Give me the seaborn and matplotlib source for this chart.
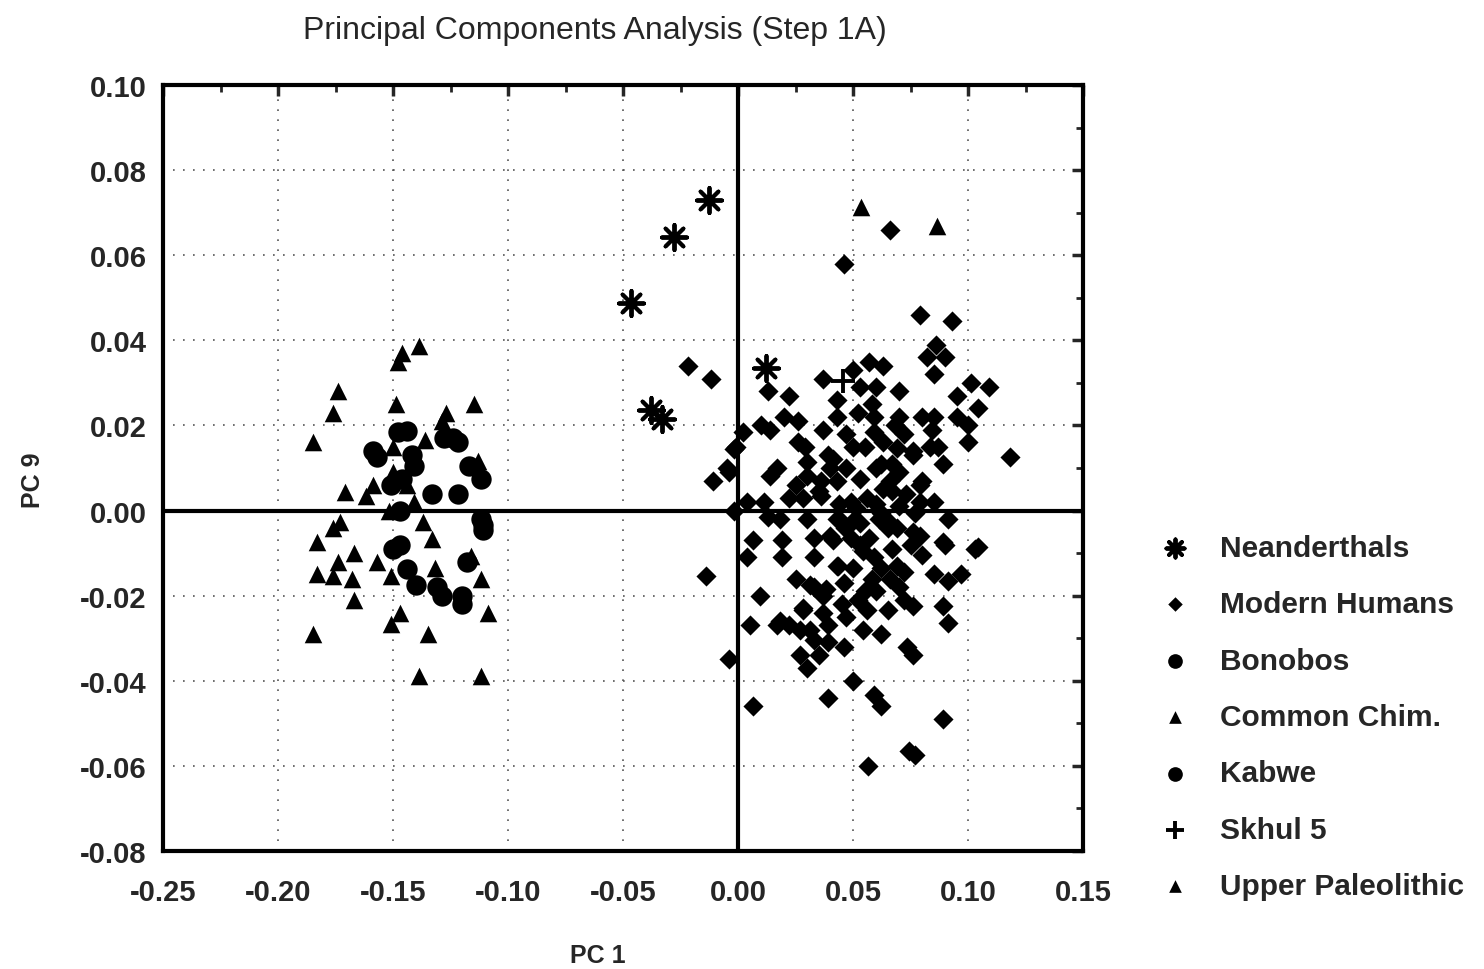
import numpy as np
import pandas as pd
import seaborn as sns
import matplotlib.pyplot as plt
from matplotlib.ticker import MultipleLocator, FormatStrFormatter

# --------------------------- DATA ---------------------------
neand_pc1 = [-0.0126, -0.0278, -0.0465, -0.0378, -0.0330, 0.0122]
neand_pc9 = [0.0730, 0.0644, 0.0488, 0.0236, 0.0215, 0.0335]

modern_pc1 = [
    0.066, 0.046, 0.079, 0.093, -0.012, -0.022, 0.086, 0.082, 0.090, 0.085,
    0.101, 0.109, 0.057, 0.063, 0.037, 0.050, 0.053, 0.060, 0.070, 0.013,
    0.022, 0.043, 0.095, 0.104, 0.010, 0.014, 0.020, 0.026, 0.037, 0.043,
    0.052, 0.059, 0.070, 0.080, 0.085, 0.095, 0.100, 0.002, -0.001, 0.026,
    0.029, 0.030, 0.039, 0.041, 0.050, -0.005, 0.017, 0.084, 0.100, 0.0835,
    0.087, 0.069, 0.059, 0.055, 0.076, 0.089, 0.118, 0.062, 0.067, -0.011,
    -0.004, 0.014, 0.004, 0.011, 0.025, 0.022, 0.028, 0.036, 0.036, 0.043,
    0.013, 0.018, 0.030, 0.033, 0.040, 0.043, 0.0065, 0.019, 0.004, 0.019,
    -0.014, 0.0095, 0.033, 0.037, 0.043, 0.046, 0.028, 0.037, 0.047, 0.005,
    0.018, 0.079, 0.060, 0.066, 0.053, 0.035, 0.049, 0.063, 0.070, 0.079,
    0.085, 0.091, 0.044, 0.050, 0.065, 0.069, 0.041, 0.049, 0.053, 0.076,
    0.079, 0.075, 0.089, 0.104, 0.0435, 0.050, 0.059, 0.062, 0.069, 0.072,
    0.080, 0.085, 0.091, 0.097, 0.031, 0.038, 0.055, 0.060, 0.070, 0.076,
    0.072, 0.065, 0.056, 0.089, 0.091, 0.028, 0.039, 0.027, 0.017, 0.022,
    0.031, 0.033, 0.039, 0.054, 0.062, 0.046, 0.027, 0.030, 0.035, 0.0735,
    0.076, -0.004, 0.050, 0.039, 0.059, 0.062, 0.0065, 0.089, 0.074, 0.077,
    0.0565, 0.051, 0.053, 0.0465, 0.057, 0.062, 0.060, 0.044, 0.073, 0.077,
    0.090, 0.103, 0.054, 0.067, 0.061, 0.065, -0.002, -0.002, 0.076, 0.080,
    0.070, 0.058, 0.066, 0.045, 0.052, 0.040, 0.047, 0.056, 0.067, 0.063,
    0.072, 0.047, 0.030, 0.033, 0.025, 0.058, 0.068,
]
modern_pc9 = [
    0.066, 0.058, 0.046, 0.0445, 0.031, 0.034, 0.039, 0.036, 0.036, 0.032,
    0.030, 0.029, 0.035, 0.034, 0.031, 0.033, 0.029, 0.029, 0.028, 0.028,
    0.027, 0.026, 0.027, 0.024, 0.020, 0.019, 0.022, 0.021, 0.019, 0.022,
    0.023, 0.022, 0.022, 0.022, 0.022, 0.022, 0.020, 0.0185, 0.015, 0.016,
    0.015, 0.0115, 0.013, 0.012, 0.015, 0.010, 0.010, 0.019, 0.016, 0.015,
    0.015, 0.0146, 0.0185, 0.015, 0.014, 0.011, 0.0125, 0.011, 0.011, 0.007,
    0.009, 0.008, 0.002, 0.002, 0.006, 0.003, 0.003, 0.007, 0.0035, 0.007,
    -0.0015, -0.002, -0.002, -0.0065, -0.006, -0.002, -0.007, -0.007, -0.011, -0.011,
    -0.0155, -0.020, -0.018, -0.020, -0.013, -0.017, -0.023, -0.024, -0.025, -0.027,
    -0.026, 0.006, 0.010, 0.007, 0.0075, 0.0045, 0.002, 0.005, 0.001, 0.002,
    0.002, -0.002, -0.002, -0.0025, -0.0025, -0.004, -0.007, -0.0065, -0.008, -0.005,
    -0.006, -0.008, -0.0075, -0.0085, -0.013, -0.0135, -0.011, -0.0135, -0.013, -0.0145,
    -0.0105, -0.015, -0.0165, -0.015, -0.0175, -0.0185, -0.019, -0.019, -0.018, -0.0225,
    -0.021, -0.0235, -0.0235, -0.0225, -0.0265, -0.0235, -0.027, -0.028, -0.027, -0.027,
    -0.028, -0.0305, -0.031, -0.028, -0.029, -0.032, -0.034, -0.037, -0.034, -0.032,
    -0.034, -0.035, -0.040, -0.044, -0.0435, -0.046, -0.046, -0.049, -0.0565, -0.0575,
    -0.060, 0.0005, -0.003, -0.004, -0.0065, -0.0007, 0.0016, 0.0016, 0.004, -0.0007,
    -0.008, -0.009, -0.0095, 0.0045, -0.002, -0.0042, 0.0, 0.0145, 0.013, 0.007,
    0.009, -0.016, -0.016, -0.022, -0.021, 0.010, 0.010, 0.003, -0.009, 0.016,
    0.018, 0.018, 0.008, -0.011, -0.016, 0.025, 0.020,
]

bonobo_pc1 = [
    -0.157, -0.148, -0.144, -0.159, -0.142, -0.128, -0.122, -0.124, -0.141, -0.117,
    -0.112, -0.133, -0.122, -0.146, -0.151, -0.111, -0.112, -0.150, -0.147, -0.144,
    -0.140, -0.131, -0.129, -0.120, -0.120, -0.118, -0.147,
]
bonobo_pc9 = [
    0.0125, 0.0185, 0.0187, 0.014, 0.013, 0.017, 0.016, 0.017, 0.0105, 0.0105,
    0.0075, 0.004, 0.004, 0.0075, 0.006, -0.0035, -0.002, -0.009, -0.008, -0.0137,
    -0.0176, -0.018, -0.020, -0.020, -0.022, -0.012, 0.0,
]

chimp_pc1 = [
    -0.139, -0.148, -0.146, -0.174, -0.176, -0.149, -0.185, -0.127, -0.129, -0.115,
    -0.136, -0.150, -0.113, -0.171, -0.159, -0.162, -0.150, -0.144, -0.141, -0.173,
    -0.176, -0.183, -0.167, -0.174, -0.183, -0.176, -0.168, -0.167, -0.157, -0.151,
    -0.152, -0.137, -0.133, -0.132, -0.116, -0.112, -0.109, -0.185, -0.147, -0.151,
    -0.135, -0.139, -0.112,
]
chimp_pc9 = [
    0.0386, 0.035, 0.037, 0.028, 0.023, 0.025, 0.016, 0.023, 0.021, 0.025,
    0.0165, 0.015, 0.0117, 0.0044, 0.006, 0.0035, 0.009, 0.006, 0.002, -0.0026,
    -0.004, -0.0073, -0.010, -0.012, -0.015, -0.0155, -0.016, -0.021, -0.012, -0.0155,
    0.0, -0.0026, -0.0066, -0.0136, -0.0107, -0.016, -0.024, -0.029, -0.024, -0.0266,
    -0.029, -0.039, -0.039,
]

kabwe_pc1 = [-0.111]
kabwe_pc9 = [-0.0045]

skhul_pc1 = [0.0457]
skhul_pc9 = [0.0304]

upper_pc1 = [0.0535, 0.0865]
upper_pc9 = [0.0715, 0.0668]

group_order = ['Neanderthals', 'Modern Humans', 'Bonobos', 'Common Chim.',
               'Kabwe', 'Skhul 5', 'Upper Paleolithic']

# --------------------------- LONG TABLE ---------------------------
parts = [
    (neand_pc1, neand_pc9, 'Neanderthals'),
    (modern_pc1, modern_pc9, 'Modern Humans'),
    (bonobo_pc1, bonobo_pc9, 'Bonobos'),
    (chimp_pc1, chimp_pc9, 'Common Chim.'),
    (kabwe_pc1, kabwe_pc9, 'Kabwe'),
    (skhul_pc1, skhul_pc9, 'Skhul 5'),
    (upper_pc1, upper_pc9, 'Upper Paleolithic'),
]
df = pd.concat(
    [pd.DataFrame({'PC1': x, 'PC9': y, 'group': g}) for x, y, g in parts],
    ignore_index=True,
)

# marker look per group
group_style = {
    'Neanderthals': dict(marker=(8, 2, 0), s=330, linewidth=2.8),
    'Modern Humans': dict(marker='D', s=105, linewidth=0),
    'Bonobos': dict(marker='o', s=215, linewidth=0),
    'Common Chim.': dict(marker='^', s=160, linewidth=0),
    'Kabwe': dict(marker='o', s=215, linewidth=0),
    'Skhul 5': dict(marker='+', s=320, linewidth=2.8),
    'Upper Paleolithic': dict(marker='^', s=160, linewidth=0),
}

# --------------------------- STYLE ---------------------------
sns.set_style('white')
plt.rcParams['font.family'] = ['Liberation Sans', 'DejaVu Sans']
plt.rcParams['axes.unicode_minus'] = False

fig = plt.figure(figsize=(14.84, 9.70), dpi=100)
ax = fig.add_axes([0.110, 0.122, 0.620, 0.789])

# zero lines
ax.axhline(0, color='black', lw=3, zorder=1)
ax.axvline(0, color='black', lw=3, zorder=1)

for g in group_order:
    sub = df[df['group'] == g]
    st = group_style[g]
    sns.scatterplot(data=sub, x='PC1', y='PC9', ax=ax, color='black',
                    edgecolor='black', label=g, zorder=3, **st)

# --------------------------- AXES ---------------------------
ax.set_xlim(-0.25, 0.15)
ax.set_ylim(-0.08, 0.10)
ax.xaxis.set_major_locator(MultipleLocator(0.05))
ax.xaxis.set_minor_locator(MultipleLocator(0.025))
ax.yaxis.set_major_locator(MultipleLocator(0.02))
ax.yaxis.set_minor_locator(MultipleLocator(0.01))
ax.xaxis.set_major_formatter(FormatStrFormatter('%.2f'))
ax.yaxis.set_major_formatter(FormatStrFormatter('%.2f'))
ax.tick_params(which='major', direction='in', length=8, width=2.5,
               labelsize=21, top=True, right=True)
ax.tick_params(axis='x', which='major', pad=20)
ax.tick_params(axis='y', which='major', pad=12)
ax.tick_params(which='minor', direction='in', length=5, width=2,
               top=True, right=True)
for lab in ax.get_xticklabels() + ax.get_yticklabels():
    lab.set_fontweight('bold')
ax.grid(True, which='major', linestyle=(0, (1, 5)), color='#555555', lw=1.2)
for sp in ax.spines.values():
    sp.set_linewidth(3)
    sp.set_color('black')

ax.set_xlabel('')
ax.set_ylabel('')
fig.text(0.403, 0.014, 'PC 1', ha='center', va='center', fontsize=18, fontweight='bold')
fig.text(0.022, 0.505, 'PC 9', ha='center', va='center', fontsize=18,
         fontweight='bold', rotation=90)
fig.text(0.401, 0.968, 'Principal Components Analysis (Step 1A)', ha='center',
         va='center', fontsize=23)

# --------------------------- LEGEND ---------------------------
ax.legend(loc='upper left', bbox_to_anchor=(0.7817, 0.4485),
          bbox_transform=fig.transFigure, frameon=False, markerscale=0.72,
          prop=dict(size=21.5, weight='bold'), handlelength=1.0,
          handletextpad=1.0, labelspacing=0.95, borderpad=0, borderaxespad=0)

fig.savefig('out.png', dpi=100)
plt.close(fig)
